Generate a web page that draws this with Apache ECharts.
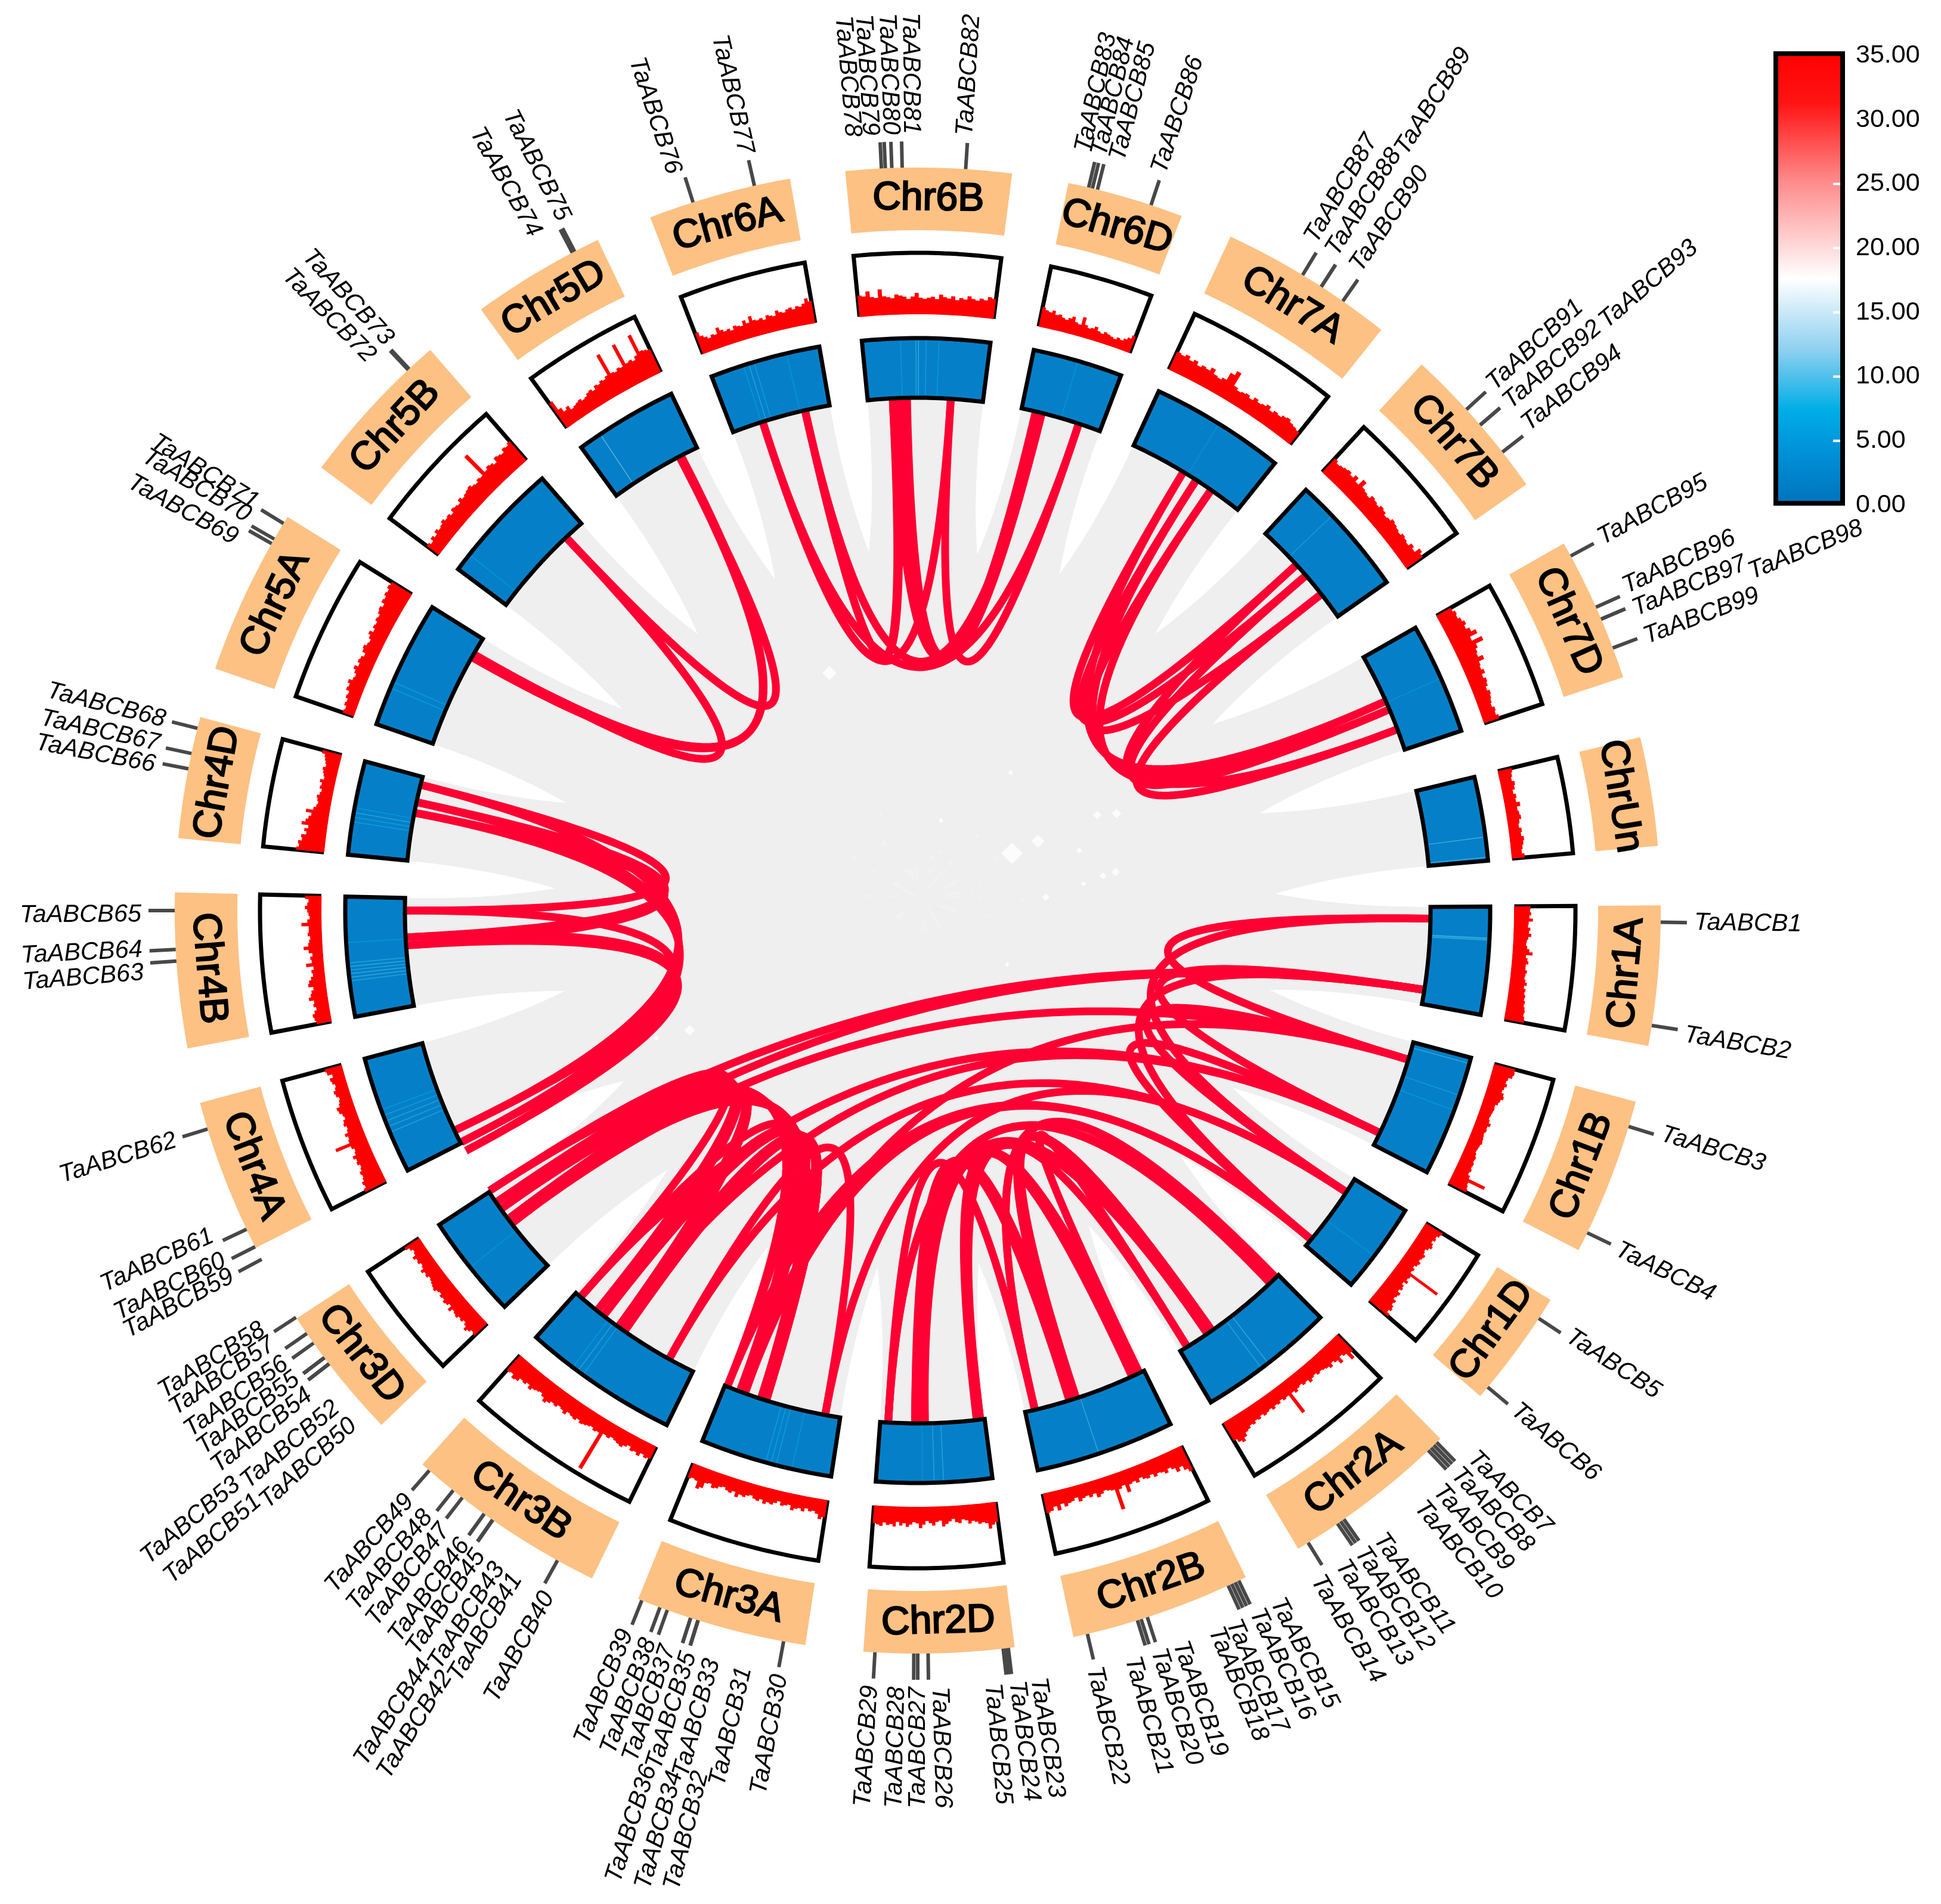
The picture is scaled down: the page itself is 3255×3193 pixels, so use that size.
<!DOCTYPE html>
<html><head><meta charset="utf-8">
<style>html,body{margin:0;padding:0;background:#fff}#c{width:3255px;height:3193px}</style>
<script src="https://cdn.jsdelivr.net/npm/echarts@6/dist/echarts.min.js"></script>
</head><body><div id="c"></div>
<script>
const chromNames=['Chr1A','Chr1B','Chr1D','Chr2A','Chr2B','Chr2D','Chr3A','Chr3B','Chr3D','Chr4A','Chr4B','Chr4D','Chr5A','Chr5B','Chr5D','Chr6A','Chr6B','Chr6D','Chr7A','Chr7B','Chr7D','ChrUn'];
const chromStart=[89.6,104.9,121.6,135.3,153.8,172.5,188.7,206,226.2,243,259.3,275.6,289,306.6,324,338.9,354.4,371.7,384.9,402.7,420.4,436.5];
const chromEnd=[100.5,117.2,130.8,149.2,167.9,184.2,202.1,221.8,236.7,255,271.4,285.1,302,319,334.5,350.1,367.3,380.8,398.6,415,431.7,445];

const density={
Chr1A:[24,23,25,22,28,21,20,24,22,26,21,19,18,20,24,30,19,22,24,20,20,23,21,20,22,25,21,24,23,25,24,26,25,27,28,27,29,30],
Chr1B:[33,34,32,26,24,27,24,22,26,28,24,22,18,19,18,17,16,18,22,18,19,17,18,19,20,18,17,16,18,20,19,21,20,22,20,24,55,26,28,30],
Chr1D:[30,28,24,26,22,26,28,24,20,22,26,24,22,26,24,20,24,22,80,26,24,28,22,26,28,24,30,28,26,32,30,34,36,32,38],
Chr2A:[34,44,30,26,36,28,24,30,26,24,22,24,20,22,26,20,22,18,20,24,20,58,20,22,18,22,20,24,20,22,24,20,24,22,26,24,28,30,36,42,38,32],
Chr2B:[42,36,28,34,26,22,28,24,22,26,20,24,22,18,24,20,22,34,20,24,58,22,20,18,22,26,18,22,18,20,24,16,20,22,26,20,30,22,28,30],
Chr2D:[30,34,40,30,28,30,26,24,28,22,20,26,24,18,22,26,30,20,22,28,24,20,26,32,24,22,26,30,24,28,22,30,26,28,24,30,28,26],
Chr3A:[26,30,22,18,20,16,22,18,20,24,16,18,20,14,18,22,20,24,18,22,20,16,18,22,20,26,18,22,20,16,18,22,24,18,20,30,34,22,20,22],
Chr3B:[20,22,18,24,20,22,16,20,24,22,20,18,22,20,90,22,24,20,22,24,26,22,26,24,22,28,24,22,26,24,28,32,26,22,24,26,30,24,28,26,32,34,28,30],
Chr3D:[26,24,28,32,26,22,26,24,28,26,24,30,22,26,28,24,26,22,24,28,26,24,22,20,24,22,26,20,18,22,20,24,18,16,20,26],
Chr4A:[36,32,34,30,28,30,26,24,28,26,30,24,22,26,52,26,24,28,22,20,24,22,18,20,24,26,20,18,16,20,22,18,16,20,22,16,24,26],
Chr4B:[22,24,26,22,18,22,20,28,24,22,18,26,24,20,16,18,14,26,16,18,14,20,28,20,18,16,20,18,18,30,20,16,18,20,24,20,18,24],
Chr4D:[44,40,42,36,38,30,34,28,40,34,30,26,36,24,20,18,20,22,18,16,20,18,22,16,18,20,22,18,20,22,24,30],
Chr5A:[16,14,18,16,20,18,24,22,26,20,18,22,26,20,24,22,18,24,26,22,20,24,28,22,26,24,28,26,30,32,28,34,32,36,34,38,36],
Chr5B:[22,18,24,20,26,22,24,28,24,26,22,28,26,24,30,26,28,30,32,28,26,30,28,72,30,34,32,28,36,34,32,38,36,40],
Chr5D:[48,30,22,26,18,20,22,24,20,22,26,28,24,30,28,32,30,34,72,34,32,36,34,74,36,38,34,40,76,44,42,40],
Chr6A:[34,26,22,18,22,20,30,24,20,22,18,24,22,20,28,22,32,24,22,24,20,26,24,22,30,26,24,28,30,26,30,28,32,40,34],
Chr6B:[32,30,38,28,26,40,28,26,24,30,28,26,22,26,32,24,22,24,26,22,30,26,24,28,22,26,24,30,26,24,28,26,32,30],
Chr6D:[30,26,24,28,22,24,20,18,22,26,18,16,30,18,14,16,20,14,12,16,14,12,10,14,12,16,20,26],
Chr7A:[30,28,32,26,30,24,28,26,32,24,22,26,40,48,24,20,22,24,20,26,22,24,28,22,26,24,28,30,26,24,22],
Chr7B:[28,24,26,28,30,26,32,24,36,26,24,22,28,26,24,28,26,22,24,28,26,24,22,26,24,22,28,24,34,30],
Chr7D:[24,28,26,30,34,30,36,44,30,48,34,30,28,36,26,24,28,22,26,24,20,24,22,20,18,22,20,24],
ChrUn:[20,18,16,20,18,14,18,16,22,16,18,20,16,14,18,16,20,18,16,14,18]
};

const geneTick=[90.9,98.9,106.9,115.7,123.3,129.9,135.7,136,136.3,136.6,145,145.3,145.6,148.3,154.4,154.7,155,155.3,162,162.5,162.8,166.8,173,173.2,173.4,179.2,180,180.3,183.3,190.4,197.2,197.2,197.2,197.2,197.8,197.8,199.7,200.3,201.8,209,214.9,214.9,214.9,214.9,215.7,215.7,217.8,218.7,221.1,232.4,232.4,233,233,232.4,233,234.4,235.3,236.8,242,243.1,244.6,252.9,266.1,267,270,281,282.2,284.2,299.6,300,301.4,316.7,316.8,332.3,332.5,342.4,347.3,357.2,357.5,358,358.8,3.7,13.3,13.6,14,18.3,31.2,32.9,32.9,34.9,47.6,49.2,49.2,51.9,61.5,65.9,66.9,66.9,69.3];
const geneLabelAngle=[90.9,99.2,106.7,115.8,123.1,129.8,134.5,136.2,138,139.8,143.6,145.3,147,149.1,152.5,154.2,156.1,157.5,160.3,162,164,166.9,171.1,172.7,174.5,178.4,180,181.5,183.5,190.2,192.9,194.1,195.3,195.7,197.1,197.4,198.7,200.2,202,208.4,211.1,211.7,212.6,213.2,214.3,215.7,217.5,219.1,220.9,227.8,228.3,229.6,230,231.6,233.1,234.5,236.2,237.5,242,243.3,245.3,252.8,265.4,267.1,269.7,280.8,282.4,284.2,298.6,300.5,301.6,315.3,317.1,330.5,332.9,341.7,347.2,355.2,356.5,358,359.5,3.5,12.3,13.5,14.9,18.1,30.4,32.2,32.5,34.3,47.5,49.3,49.4,51.4,61.4,65.4,67.2,67.9,69.4];
const geneLabelRadius={32:1489,34:1500,36:1503,42:1503,44:1505,50:1278,51:1482,52:1280,53:1490,89:1507,93:1512,98:1505};

const geneLinks=[
[1,3],[1,5],[3,5],[2,4],[2,6],[4,6],
[7,22],[8,22],[9,29],[10,29],[22,29],[11,19],[12,20],[13,21],[11,26],[12,27],[13,28],[19,26],[20,27],[21,28],[14,15],[14,23],[16,23],[15,24],[17,24],[18,25],
[2,58],[2,56],[3,54],[4,49],[4,46],[5,40],[6,39],[6,37],[3,38],[5,30],
[58,49],[57,48],[56,47],[55,46],[54,45],[53,44],[52,43],[51,42],[50,41],
[58,39],[57,38],[56,37],[55,36],[54,35],[53,34],[52,33],[51,32],[50,31],
[49,39],[48,38],[47,37],[46,36],[45,35],[44,34],[43,33],[42,32],[41,31],[40,30],
[59,63],[60,64],[61,65],[59,66],[60,67],[61,68],[63,66],[64,67],[65,68],
[70,72],[70,75],[72,74],[69,74],
[76,82],[77,78],[77,79],[78,83],[79,84],[80,85],[81,84],[82,86],[76,86],[77,85],
[87,91],[88,92],[90,94],[91,96],[92,97],[94,99],[87,96],[88,97],[90,99]
];
const linkWidth=13;

const heatStreaks={
Chr1A:[[0.29,11],[0.3,9],[0.31,10]],Chr1B:[[0.05,10],[0.32,8],[0.45,7]],Chr1D:[[0.6,6]],Chr2A:[[0.5,10],[0.56,9]],Chr2B:[[0.55,10]],Chr2D:[[0.42,9],[0.5,9],[0.6,6]],
Chr3A:[[0.3,7],[0.42,8],[0.46,8],[0.5,8]],Chr3B:[[0.62,8],[0.66,9],[0.7,7]],Chr3D:[[0.5,6]],Chr4A:[[0.35,9],[0.4,9],[0.45,9],[0.5,8],[0.55,7]],
Chr4B:[[0.3,9],[0.33,10],[0.36,10],[0.39,9],[0.42,10],[0.45,9],[0.62,7]],Chr4D:[[0.35,8],[0.4,8],[0.45,9],[0.5,7]],Chr5A:[[0.3,8],[0.35,8]],
Chr5B:[[0.15,7]],Chr5D:[[0.22,12]],Chr6A:[[0.3,7],[0.35,9],[0.4,8],[0.7,6]],Chr6B:[[0.3,7],[0.42,9],[0.44,10],[0.5,8],[0.6,7]],Chr6D:[[0.5,6]],Chr7A:[[0.5,6]],Chr7B:[[0.3,8]],Chr7D:[[0.5,6]],ChrUn:[[0.72,11],[0.96,10]]
};

// small uncovered spots inside the synteny background: [radius, angle, size]
const syntenyGaps=[[185,58.7,36],[233,60,22],[371,64,16],[341,62,14],[425,339.6,24],[338,79,14],[316,79.4,12],[216,84,12],[289,69.6,10],[282,80.8,9],[279,34,9],[156,14.5,9],[432,242.3,18],[488,244,10],[175,121,8]];

const legendTicks=[0,5,10,15,20,25,30,35];
const rampStops=[[0,'#0072BC'],[5,'#0098DC'],[7.4,'#00AEE6'],[12,'#8ED0F0'],[17.5,'#FFFFFF'],[25,'#FF8A8A'],[31,'#FF1414'],[35,'#FF0000']];

function hex(c){return [1,3,5].map(i=>parseInt(c.substr(i,2),16));}
function ramp(v){for(let i=1;i<rampStops.length;i++){if(v<=rampStops[i][0]){const a=rampStops[i-1],b=rampStops[i],t=(v-a[0])/(b[0]-a[0]),A=hex(a[1]),B=hex(b[1]);return 'rgb('+A.map((x,k)=>Math.round(x+(B[k]-x)*t)).join(',')+')';}}return '#f00';}

const R={blueIn:860,blueOut:960,trackIn:1004,trackOut:1103,lblIn:1141,lblOut:1246,tickOut:1290,geneText:1302,link:858};
const chart=echarts.init(document.getElementById('c'),null,{renderer:'canvas'});

function arc(api,r,a,b){const n=Math.max(2,Math.ceil(Math.abs(b-a)/0.5));const out=[];for(let i=0;i<=n;i++){out.push(api.coord([r,a+(b-a)*i/n]));}return out;}
function sectorPts(api,r0,r1,a,b){return arc(api,r1,a,b).concat(arc(api,r0,b,a));}
function qcurve(P0,C,P2,ends){const o=[];for(let i=ends?0:1;i<=(ends?80:79);i++){const t=i/80,u=1-t;o.push([u*u*P0[0]+2*u*t*C[0]+t*t*P2[0],u*u*P0[1]+2*u*t*C[1]+t*t*P2[1]]);}return o;}
function ribbon(api,a0,a1,b0,b1,r){const C=api.coord([0,0]);const A0=arc(api,r,a0,a1),B0=arc(api,r,b0,b1);
 return A0.concat(qcurve(A0[A0.length-1],C,B0[0])).concat(B0).concat(qcurve(B0[B0.length-1],C,A0[0]));}
function norm(a){return ((a%360)+360)%360;}

const grayPairs=[];
chromNames.forEach((n,i)=>{chromNames.forEach((m,j)=>{if(j>i)grayPairs.push([i,j]);});});

const polarCS={coordinateSystem:'polar',silent:true,animation:false,clip:false};
const series=[
{...polarCS,type:'custom',name:'synteny',data:grayPairs,z:1,renderItem(p,api){const q=grayPairs[p.dataIndex];const i=q[0],j=q[1];
  return {type:'polygon',shape:{points:ribbon(api,chromStart[i],chromEnd[i],chromEnd[j],chromStart[j],R.link+4)},style:{fill:'#EFEFEF'}};}},
{...polarCS,type:'scatter',name:'core',data:[[0,0]],symbol:'circle',symbolSize:520,itemStyle:{color:'#EFEFEF'},z:2},
{...polarCS,type:'scatter',name:'gaps',data:syntenyGaps,symbol:'diamond',symbolSize:d=>d[2],itemStyle:{color:'#fff'},z:2.5},
{...polarCS,type:'custom',name:'links',data:geneLinks,z:3,renderItem(p,api){const q=geneLinks[p.dataIndex];const a=geneTick[q[0]-1],b=geneTick[q[1]-1];
  return {type:'polyline',shape:{points:qcurve(api.coord([R.link,a]),api.coord([0,0]),api.coord([R.link,b]),true)},style:{fill:'none',stroke:'#FF0033',lineWidth:linkWidth,lineJoin:'round'}};}},
{...polarCS,type:'custom',name:'heat',data:chromNames,z:4,renderItem(p,api){const i=p.dataIndex,a=chromStart[i],b=chromEnd[i],kids=[];
  kids.push({type:'polygon',shape:{points:sectorPts(api,R.blueIn,R.blueOut,a,b)},style:{fill:'#0580C8'}});
  (heatStreaks[chromNames[i]]||[]).forEach(s=>{const t=a+(b-a)*s[0];kids.push({type:'polygon',shape:{points:sectorPts(api,R.blueIn+4,R.blueOut-4,t-0.04,t+0.04)},style:{fill:ramp(s[1]),opacity:.7}});});
  kids.push({type:'polygon',shape:{points:sectorPts(api,R.blueIn,R.blueOut,a,b)},style:{fill:'none',stroke:'#000',lineWidth:7,lineJoin:'miter'}});
  return {type:'group',children:kids};}},
{...polarCS,type:'custom',name:'track',data:chromNames,z:5,renderItem(p,api){const i=p.dataIndex,a=chromStart[i],b=chromEnd[i],v=density[chromNames[i]],h=R.trackOut-R.trackIn;
  const top=[],da=(b-a)/v.length;v.forEach((x,k)=>{const r=R.trackIn+h*x/100;top.push(api.coord([r,a+da*k]));top.push(api.coord([r,a+da*(k+1)]));});
  return {type:'group',children:[
   {type:'polygon',shape:{points:sectorPts(api,R.trackIn,R.trackOut,a,b)},style:{fill:'#fff',stroke:'#000',lineWidth:7}},
   {type:'polygon',shape:{points:arc(api,R.trackIn-4,b,a).concat(top)},style:{fill:'#FF0000'}}]};}},
{...polarCS,type:'custom',name:'labels',data:chromNames,z:6,renderItem(p,api){const i=p.dataIndex,a=chromStart[i],b=chromEnd[i],m=norm((a+b)/2);
  const c=api.coord([(R.lblIn+R.lblOut)/2,(a+b)/2]);let rot;if(m>90&&m<=270)rot=180-m;else if(m>270)rot=360-m;else rot=-m;
  return {type:'group',children:[
   {type:'polygon',shape:{points:sectorPts(api,R.lblIn,R.lblOut,a,b)},style:{fill:'#FDC183'}},
   {type:'text',x:c[0],y:c[1],rotation:rot*Math.PI/180,style:{text:chromNames[i],fill:'#000',stroke:'#000',lineWidth:2.4,font:'66px "Liberation Sans", Arial, sans-serif',textAlign:'center',textVerticalAlign:'middle'}}]};}},
{...polarCS,type:'custom',name:'genes',data:geneTick,z:7,renderItem(p,api){const i=p.dataIndex,t=geneTick[i],la=geneLabelAngle[i],num=i+1,name='TaABCB'+num;
  const A=api.coord([R.lblOut,t]),B=api.coord([R.tickOut,t]),r=geneLabelRadius[num]||R.geneText,T=api.coord([r,la]),m=norm(la);
  const right=m<180,rot=(right?90-m:270-m)*Math.PI/180;
  return {type:'group',children:[
   {type:'line',shape:{x1:A[0],y1:A[1],x2:B[0],y2:B[1]},style:{stroke:'#484848',lineWidth:6}},
   {type:'text',x:T[0],y:T[1],rotation:rot,style:{text:name,fill:'#000',font:'italic 41.5px "Liberation Sans", Arial, sans-serif',textAlign:right?'left':'right',textVerticalAlign:'middle'}}]};}},
{type:'custom',name:'legend',coordinateSystem:'cartesian2d',xAxisIndex:0,yAxisIndex:0,data:[[0,35]],silent:true,animation:false,clip:false,z:8,renderItem(p,api){
  const A=api.coord([0,35]),B=api.coord([1,0]);
  const colorStops=[];rampStops.forEach(s=>colorStops.push({offset:1-s[0]/35,color:s[1]}));colorStops.reverse();
  const kids=[{type:'rect',shape:{x:A[0],y:A[1]-3,width:B[0]-A[0],height:B[1]-A[1]},style:{fill:new echarts.graphic.LinearGradient(0,0,0,1,colorStops),stroke:'#000',lineWidth:8}}];
  [5,10,15,20,25].forEach(v=>{const q=api.coord([1,v]);kids.push({type:'line',shape:{x1:q[0]-16,y1:q[1],x2:q[0]-4,y2:q[1]},style:{stroke:'#fff',lineWidth:4}});});
  return {type:'group',children:kids};}}
];

chart.setOption({
 backgroundColor:'#fff',animation:false,
 polar:{center:[1539,1527],radius:1600},
 angleAxis:{type:'value',min:0,max:360,startAngle:90,clockwise:true,show:false},
 radiusAxis:{type:'value',min:0,max:1600,show:false},
 grid:{left:2978,top:93,width:112,height:754,containLabel:false},
 xAxis:{type:'value',min:0,max:1,show:false},
 yAxis:{type:'value',min:0,max:35,interval:5,position:'right',axisLine:{show:false},axisTick:{show:false},splitLine:{show:false},
   axisLabel:{margin:22,color:'#000',fontSize:43,fontFamily:'"Liberation Sans", Arial, sans-serif',formatter:v=>v.toFixed(2)}},
 series
});
</script></body></html>
